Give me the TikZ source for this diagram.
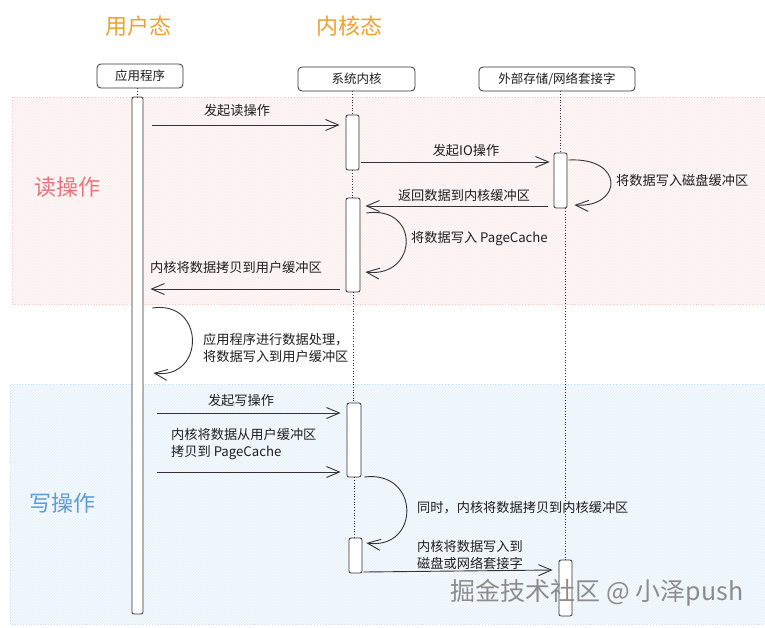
\documentclass[tikz,border=0pt]{standalone}
\usepackage{fontspec}
\setmainfont{Noto Sans CJK SC}
\usetikzlibrary{arrows.meta,patterns,calc}
\definecolor{linec}{HTML}{333333}
\definecolor{txtc}{HTML}{1E1E1E}
\definecolor{orangec}{HTML}{F2A030}
\definecolor{readc}{HTML}{E9737E}
\definecolor{writec}{HTML}{5C9DD6}
\definecolor{redfill}{HTML}{FEF9F8}
\definecolor{redhatch}{HTML}{F8EAE8}
\definecolor{redborder}{HTML}{F2CDBE}
\definecolor{bluefill}{HTML}{F6FAFE}
\definecolor{bluehatch}{HTML}{E3EFF9}
\definecolor{blueborder}{HTML}{C9E2F4}
\definecolor{wmc}{HTML}{8C8C8C}
\tikzset{
  hdr/.style={draw=linec, line width=0.8pt, rounded corners=4pt, fill=white, inner sep=0pt, font=\fontsize{12.5}{14}\selectfont, text=txtc},
  bar/.style={draw=linec, line width=0.8pt, rounded corners=2pt, fill=white, inner sep=0pt, minimum width=12pt},
  msg/.style={draw=linec, line width=0.9pt, -{Straight Barb[length=13pt,width=11pt,line width=0.9pt]}},
  lbl/.style={font=\fontsize{13.2}{16.5}\selectfont, text=txtc, inner sep=0pt, align=left},
  life/.style={draw=linec, dotted, line width=0.7pt},
  ttl/.style={font=\fontsize{22}{26}\selectfont, inner sep=0pt},
}
\begin{document}
\begin{tikzpicture}[x=1pt,y=-1pt]
\useasboundingbox (0,0) rectangle (765,627);
\fill[white] (0,0) rectangle (765,627);
% regions
\fill[redfill] (12,97) rectangle (765,304);
\fill[pattern=north east lines, pattern color=redhatch] (12,97) rectangle (765,304);
\draw[redborder, dotted, line width=0.8pt] (765,97) -- (12,97) -- (12,304) -- (765,304);
\fill[bluefill] (10,384) rectangle (765,624);
\fill[pattern=north east lines, pattern color=bluehatch] (10,384) rectangle (765,624);
\draw[blueborder, dotted, line width=0.8pt] (765,384) -- (10,384) -- (10,624) -- (765,624);
% titles
\node[ttl, text=orangec] (tu) at (138,26) {用户态};
\node[ttl, text=orangec] (tk) at (349,26) {内核态};
\node[ttl, text=readc] (tr) at (67,187) {读操作};
\node[ttl, text=writec] (tw) at (62,503) {写操作};
% headers
\node[hdr, minimum width=86pt, minimum height=24pt] (uh) at (140,76) {应用程序};
\node[hdr, minimum width=117pt, minimum height=24pt] (kh) at (356.5,79) {系统内核};
\node[hdr, minimum width=156pt, minimum height=24pt] (eh) at (557,79) {外部存储/网络套接字};
% bars
\node[bar, minimum width=11pt, minimum height=517pt] (ubar) at (137.5,355.5) {};
\node[bar, minimum width=13pt, minimum height=55pt] (k1) at (352.5,142.5) {};
\node[bar, minimum width=14pt, minimum height=94pt] (k2) at (353,245) {};
\node[bar, minimum width=14pt, minimum height=74pt] (k3) at (354,440) {};
\node[bar, minimum width=13pt, minimum height=35pt] (k4) at (355.5,555.5) {};
\node[bar, minimum width=13pt, minimum height=55pt] (e1) at (560.5,180.5) {};
\node[bar, minimum width=13pt, minimum height=56pt] (e2) at (565.5,588) {};
% lifelines
\draw[life] (uh.south -| ubar.north) -- (ubar.north);
\draw[life] (k1.center |- kh.south) -- (k1.north);
\draw[life] (k1.south) -- (k1.south |- k2.north);
\draw[life] (k2.south) -- (k2.south |- k3.north);
\draw[life] (k3.south) -- (k3.south |- k4.north);
\draw[life] (e1.center |- eh.south) -- (e1.north);
\draw[life] (e2.center |- e1.south) -- (e2.north);
% read messages
\draw[msg] ($(ubar.east |- 0,125)+(9,0)$) -- ($(k1.west |- 0,125)+(-6,0)$);
\node[lbl] (l1) at (237,111) {发起读操作};
\draw[msg] ($(k1.east |- 0,162)+(2,0)$) -- ($(e1.west |- 0,162)+(-4,0)$);
\node[lbl] (l2) at (466,151) {发起IO操作};
\draw[msg] ($(e1.east |- 0,160)+(1,0)$) .. controls +(57,-3) and +(48,3) .. ($(e1.east |- 0,205)+(7,0)$);
\node[lbl, anchor=west] (l3) at (616,180) {将数据写入磁盘缓冲区};
\draw[msg] ($(e1.west |- 0,206)+(-6,0)$) -- ($(k2.east |- 0,206)+(5,0)$);
\node[lbl] (l4) at (464,195) {返回数据到内核缓冲区};
\draw[msg] ($(k2.east |- 0,213)+(6,0)$) .. controls +(54,-8) and +(53,6) .. ($(k2.east |- 0,272)+(5,0)$);
\node[lbl, anchor=west] (l5) at (411,239) {将数据写入 PageCache};
\draw[msg] ($(k2.west |- 0,289)+(-6,0)$) -- ($(ubar.east |- 0,289)+(7,0)$);
\node[lbl, anchor=west] (l6) at (150,267) {内核将数据拷贝到用户缓冲区};
\draw[msg] ($(ubar.east |- 0,308)+(9,0)$) .. controls +(53,-8) and +(52,7) .. ($(ubar.east |- 0,373)+(10,0)$);
\node[lbl, anchor=west] (l7) at (203,348) {应用程序进行数据处理，\\将数据写入到用户缓冲区};
% write messages
\draw[msg] ($(ubar.east |- 0,413)+(14,0)$) -- ($(k3.west |- 0,413)+(-6,0)$);
\node[lbl] (l8) at (241,401) {发起写操作};
\node[lbl, anchor=west] (l9) at (171,444) {内核将数据从用户缓冲区\\拷贝到 PageCache};
\draw[msg] ($(ubar.east |- 0,472)+(14,0)$) -- ($(k3.west |- 0,472)+(-6,0)$);
\draw[msg] ($(k3.east |- 0,477)+(3,0)$) .. controls +(56,-7) and +(54,7) .. ($(k4.east |- 0,543)+(4,0)$);
\node[lbl, anchor=west] (l10) at (417,508) {同时，内核将数据拷贝到内核缓冲区};
\node[lbl, anchor=west] (l11) at (417,555) {内核将数据写入到\\磁盘或网络套接字};
\draw[msg] ($(k4.east |- 0,572)+(1,0)$) -- ($(e2.west |- 0,570)+(-6,0)$);
% watermark
\node[font=\fontsize{25}{28}\selectfont, text=wmc, inner sep=0pt] (wm) at (597,593) {掘金技术社区 @ 小泽push};
\end{tikzpicture}
\end{document}
